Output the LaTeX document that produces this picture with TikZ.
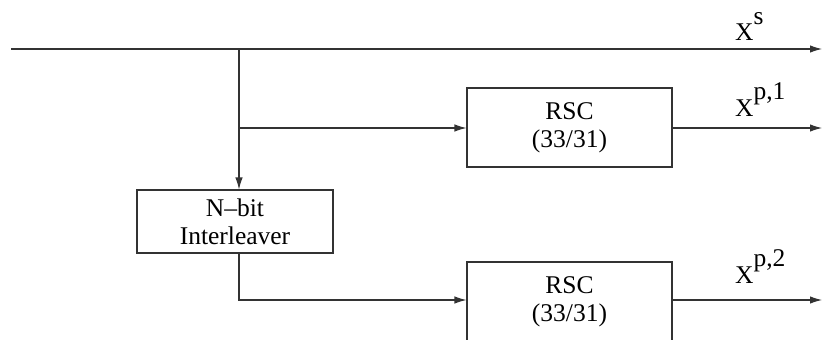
\documentclass[tikz,border=0pt]{standalone}
\usepackage{fontspec}
\setmainfont{Liberation Serif}
\usetikzlibrary{arrows.meta}
\begin{document}
\begin{tikzpicture}[x=1pt,y=-1pt,
  wire/.style={line width=1.1pt, draw=black!80},
  arr/.style={wire,-{Latex[length=12pt,width=7.5pt]}},
  blk/.style={draw=black!80, line width=1.1pt, inner sep=0pt,
    font=\fontsize{25.5}{28}\selectfont, align=center},
  lbl/.style={inner sep=0pt, anchor=base west, font=\fontsize{25.5}{28}\selectfont}]
\useasboundingbox (0,0) rectangle (822,340);

% encoder blocks
\node[blk, minimum width=205pt, minimum height=79pt] (rsc1) at (569.5,127.5) {RSC\\(33/31)};
\node[blk, minimum width=196pt, minimum height=63pt] (ilv) at (235,221.5) {N–bit\\Interleaver};
\node[blk, minimum width=205pt, minimum height=79pt] (rsc2) at (569.5,301.5) {RSC\\(33/31)};

% signal points
\coordinate (in) at (11,49);
\coordinate (xs) at (822,49);
\coordinate (split) at (239,49);
\coordinate (tap) at (239,128);
\coordinate (p1) at (822,128);
\coordinate (bend) at (239,300);
\coordinate (p2) at (822,300);

% systematic output and feeds
\draw[arr] (in) -- (xs);
\draw[arr] (split) -- (split |- ilv.north);
\draw[arr] (tap) -- (tap -| rsc1.west);
\draw[arr] (bend |- ilv.south) -- (bend) -- (bend -| rsc2.west);

% parity outputs
\draw[arr] (rsc1.east |- p1) -- (p1);
\draw[arr] (rsc2.east |- p2) -- (p2);

% output labels
\node[lbl] (lxs) at (735,40) {X\raisebox{16pt}{s}};
\node[lbl] (lp1) at (735,116) {X\raisebox{17pt}{p,1}};
\node[lbl] (lp2) at (735,283) {X\raisebox{17pt}{p,2}};
\end{tikzpicture}
\end{document}
